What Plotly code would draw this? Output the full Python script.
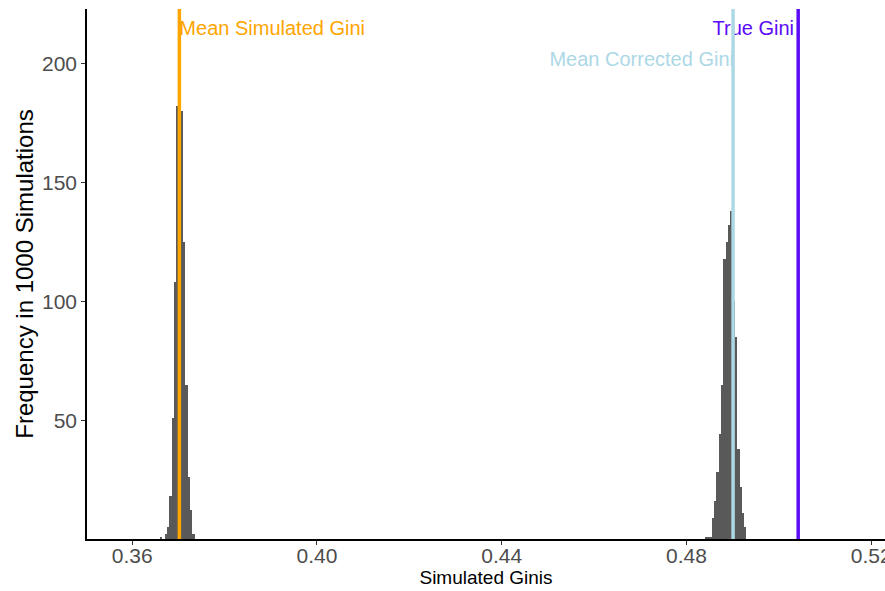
import plotly.graph_objects as go

# Histogram bins (bin width 0.0005), left edges and counts
bin_width = 0.0005
sim_edges = [0.3660, 0.3665, 0.3670, 0.3675, 0.3680, 0.3685, 0.3690, 0.3695,
             0.3700, 0.3705, 0.3710, 0.3715, 0.3720, 0.3725, 0.3730]
sim_counts = [1, 0, 2, 5, 18, 51, 108, 182, 223, 180, 125, 65, 26, 12, 2]

cor_edges = [0.4840, 0.4845, 0.4850, 0.4855, 0.4860, 0.4865, 0.4870, 0.4875,
             0.4880, 0.4885, 0.4890, 0.4895, 0.4900, 0.4905, 0.4910, 0.4915,
             0.4920, 0.4925]
cor_counts = [1, 1, 1, 9, 16, 28, 44, 65, 118, 125, 132, 138, 100, 85, 38, 22,
              11, 5]

mean_sim = 0.3702
mean_cor = 0.4901
true_gini = 0.5042

x_ticks = [0.36, 0.40, 0.44, 0.48, 0.52]
x_ticklabels = ["0.36", "0.40", "0.44", "0.48", "0.52"]
y_ticks = [50, 100, 150, 200]
y_top = 223

edges = sim_edges + cor_edges
counts = sim_counts + cor_counts
centers = [e + bin_width / 2 for e in edges]

fig = go.Figure()
fig.add_trace(go.Bar(x=centers, y=counts, width=bin_width,
                     marker=dict(color="#595959", line=dict(width=0)),
                     showlegend=False, hoverinfo="skip"))

font_family = "Liberation Sans, Arial, sans-serif"
lab_size = 20
# text labels (drawn before lines so lines overlay them)
fig.add_trace(go.Scatter(x=[mean_sim], y=[214], mode="text",
                         text=["Mean Simulated Gini"], textposition="middle right",
                         textfont=dict(color="#FFA500", size=lab_size, family=font_family),
                         showlegend=False, hoverinfo="skip", cliponaxis=False))
fig.add_trace(go.Scatter(x=[mean_cor + 0.0002], y=[201], mode="text",
                         text=["Mean Corrected Gini"], textposition="middle left",
                         textfont=dict(color="#ADD8E6", size=lab_size, family=font_family),
                         showlegend=False, hoverinfo="skip", cliponaxis=False))
fig.add_trace(go.Scatter(x=[true_gini - 0.0009], y=[214], mode="text",
                         text=["True Gini"], textposition="middle left",
                         textfont=dict(color="#5B0BF5", size=lab_size, family=font_family),
                         showlegend=False, hoverinfo="skip", cliponaxis=False))

for xv, col in [(mean_sim, "#FFA500"), (mean_cor, "#ADD8E6"), (true_gini, "#5B0BF5")]:
    fig.add_trace(go.Scatter(x=[xv, xv], y=[0, y_top], mode="lines",
                             line=dict(color=col, width=3.5),
                             showlegend=False, hoverinfo="skip"))

fig.update_layout(
    width=885, height=591,
    margin=dict(l=87, r=0, t=9, b=52, autoexpand=False),
    plot_bgcolor="white", paper_bgcolor="white",
    font=dict(family=font_family),
    bargap=0,
)
fig.update_xaxes(range=[0.3502, 0.5230], tickvals=x_ticks, ticktext=x_ticklabels,
                 showgrid=False, zeroline=False, showline=True, linecolor="black",
                 linewidth=1.5, ticks="outside", ticklen=4, tickcolor="#333333",
                 ticklabeloverflow="allow", automargin=False, ticklabelstandoff=-7,
                 tickfont=dict(size=21, color="#4D4D4D"),
                 title=dict(text="Simulated Ginis", font=dict(size=19, color="black"), standoff=2))
fig.update_yaxes(range=[0, y_top], tickvals=y_ticks, showgrid=False, zeroline=False,
                 showline=True, linecolor="black", linewidth=1.5, ticks="outside",
                 ticklen=4, tickcolor="#333333", automargin=False,
                 tickfont=dict(size=21, color="#4D4D4D"),
                 title=dict(text="Frequency in 1000 Simulations", font=dict(size=24, color="black"), standoff=2))

fig.write_html("out.html")
